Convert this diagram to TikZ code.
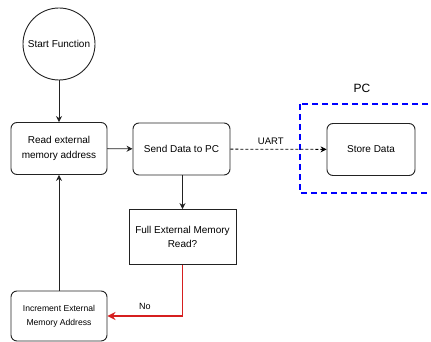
\documentclass[tikz,border=0pt]{standalone}
\usepackage{fontspec}
\setmainfont{Liberation Sans}
\usetikzlibrary{arrows.meta}
\definecolor{linegray}{HTML}{222222}
\definecolor{noRed}{HTML}{D61F1F}
\begin{document}
\begin{tikzpicture}[x=1pt,y=-1pt,
  every node/.style={font=\fontsize{10}{14.5}\selectfont, text=black},
  stepbox/.style={draw=linegray, line width=0.9pt, rounded corners=6pt, align=center,
    minimum width=96pt, minimum height=52pt, inner sep=0pt},
  decisionbox/.style={draw=linegray, line width=0.9pt, align=center,
    minimum width=107pt, minimum height=55pt, inner sep=0pt},
  startnode/.style={draw=linegray, line width=0.9pt, circle, minimum size=72pt, inner sep=0pt},
  flow/.style={draw=linegray, line width=0.9pt, -{Stealth[length=6pt,width=6pt]}},
  link/.style={draw=black, line width=0.8pt, dashed, dash pattern=on 3pt off 2pt, -{Stealth[length=6pt,width=6pt]}},
  nopath/.style={draw=noRed, line width=1.8pt, -{Stealth[length=8pt,width=8pt]}},
  pcgroup/.style={draw=blue, line width=1.8pt, dash pattern=on 6pt off 4pt}
]
\useasboundingbox (0,0) rectangle (431,342);
\clip (0,0) rectangle (431,342);

% PC side group
\draw[pcgroup] (300,104) rectangle (450,193);
\node (pclabel) at (362,88) {\fontsize{12}{14}\selectfont PC};

% flow nodes
\node[startnode] (start) at (59,44) {Start Function};
\node[stepbox] (read) at (59,148.5) {Read external\\memory address};
\node[stepbox, minimum width=97pt] (send) at (181.5,149) {Send Data to PC};
\node[stepbox, minimum width=88pt] (store) at (371,149.5) {Store Data};
\node[decisionbox] (full) at (182.5,237) {Full External Memory\\Read?};
\node[stepbox, minimum height=50pt, font=\fontsize{8.6}{14}\selectfont] (inc) at (59,316) {Increment External\\Memory Address};

% connectors
\draw[flow] (start) -- (read);
\draw[flow] (read) -- (send);
\draw[link] (send) -- node[pos=0.42, above=1pt, font=\fontsize{9.5}{11}\selectfont] (uart) {UART} (store);
\draw[flow] (send.south -| full.north) -- (full.north);
\draw[nopath] (full.south) |- node[pos=0.75, above=2pt, font=\fontsize{9}{11}\selectfont] (no) {No} (inc.east);
\draw[flow] (inc) -- (read);
\end{tikzpicture}
\end{document}
